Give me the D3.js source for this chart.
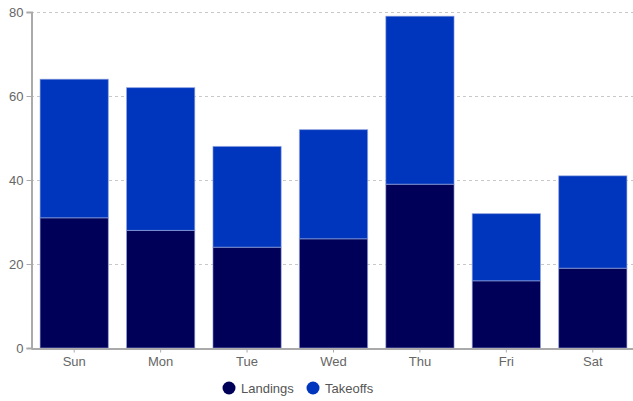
<!DOCTYPE html>
<html><head><meta charset="utf-8">
<script src="https://cdn.jsdelivr.net/npm/d3@7"></script>
<style>body{margin:0;background:#fff}svg{display:block;font-family:"Liberation Sans",Arial,sans-serif}</style>
</head><body><svg id="c" width="633" height="401"></svg>
<script>
const days = ["Sun","Mon","Tue","Wed","Thu","Fri","Sat"];
const landings = [31,28,24,26,39,16,19];
const takeoffs = [33,34,24,26,40,16,22];
const seriesNames = ["Landings","Takeoffs"];
const seriesColors = ["#000058","#0036bd"];
const yTicks = [0,20,40,60,80];

(function(){
const svg = d3.select("#c");
const mLeft = 31, mRight = 636, mTop = 12, mBottom = 348;
const x = d3.scaleBand().domain(days).range([mLeft,mRight]).paddingInner(0.21).paddingOuter(0.105);
const y = d3.scaleLinear().domain([0,80]).range([mBottom,mTop]);

// grid
svg.append("g").selectAll("line").data(yTicks.filter(d=>d>0)).join("line")
  .attr("x1",mLeft).attr("x2",633).attr("y1",d=>y(d)+0.5).attr("y2",d=>y(d)+0.5)
  .attr("stroke","#c8c8c8").attr("stroke-dasharray","3,3");

const rows = days.map((d,i)=>({day:d,Landings:landings[i],Takeoffs:takeoffs[i]}));
const stack = d3.stack().keys(seriesNames)(rows);
svg.append("g").selectAll("g").data(stack).join("g")
  .attr("fill",(d,i)=>seriesColors[i])
  .selectAll("rect").data(d=>d).join("rect")
  .attr("x",d=>x(d.data.day)).attr("width",x.bandwidth())
  .attr("y",d=>y(d[1])).attr("height",d=>y(d[0])-y(d[1]))
  .attr("stroke","#9aa8e0").attr("stroke-opacity",0.6).attr("stroke-width",1);

// y axis
const ya = svg.append("g").attr("transform",`translate(${mLeft+0.5},0)`)
  .call(d3.axisLeft(y).tickValues(yTicks).tickSize(5).tickPadding(3));
ya.select(".domain").attr("stroke","#aaa").attr("stroke-width",2);
ya.selectAll(".tick line").attr("stroke","#aaa");
ya.selectAll("text").attr("fill","#666").style("font-size","13px");

// x axis
const xa = svg.append("g").attr("transform",`translate(0,${mBottom+0.5})`)
  .call(d3.axisBottom(x).tickSize(4).tickSizeOuter(0).tickPadding(4));
xa.select(".domain").attr("stroke","#aaa").attr("stroke-width",2);
xa.selectAll(".tick line").attr("stroke","#aaa");
xa.selectAll("text").attr("fill","#666").style("font-size","13px");

// legend
const lg = svg.append("g");
const lx = [229, 313];
seriesNames.forEach((n,i)=>{
  lg.append("circle").attr("cx",lx[i]).attr("cy",388).attr("r",6.5).attr("fill",seriesColors[i]);
  lg.append("text").attr("x",lx[i]+12).attr("y",392.5).text(n)
    .attr("fill","#555").style("font-size","13px");
});
})();
</script></body></html>
